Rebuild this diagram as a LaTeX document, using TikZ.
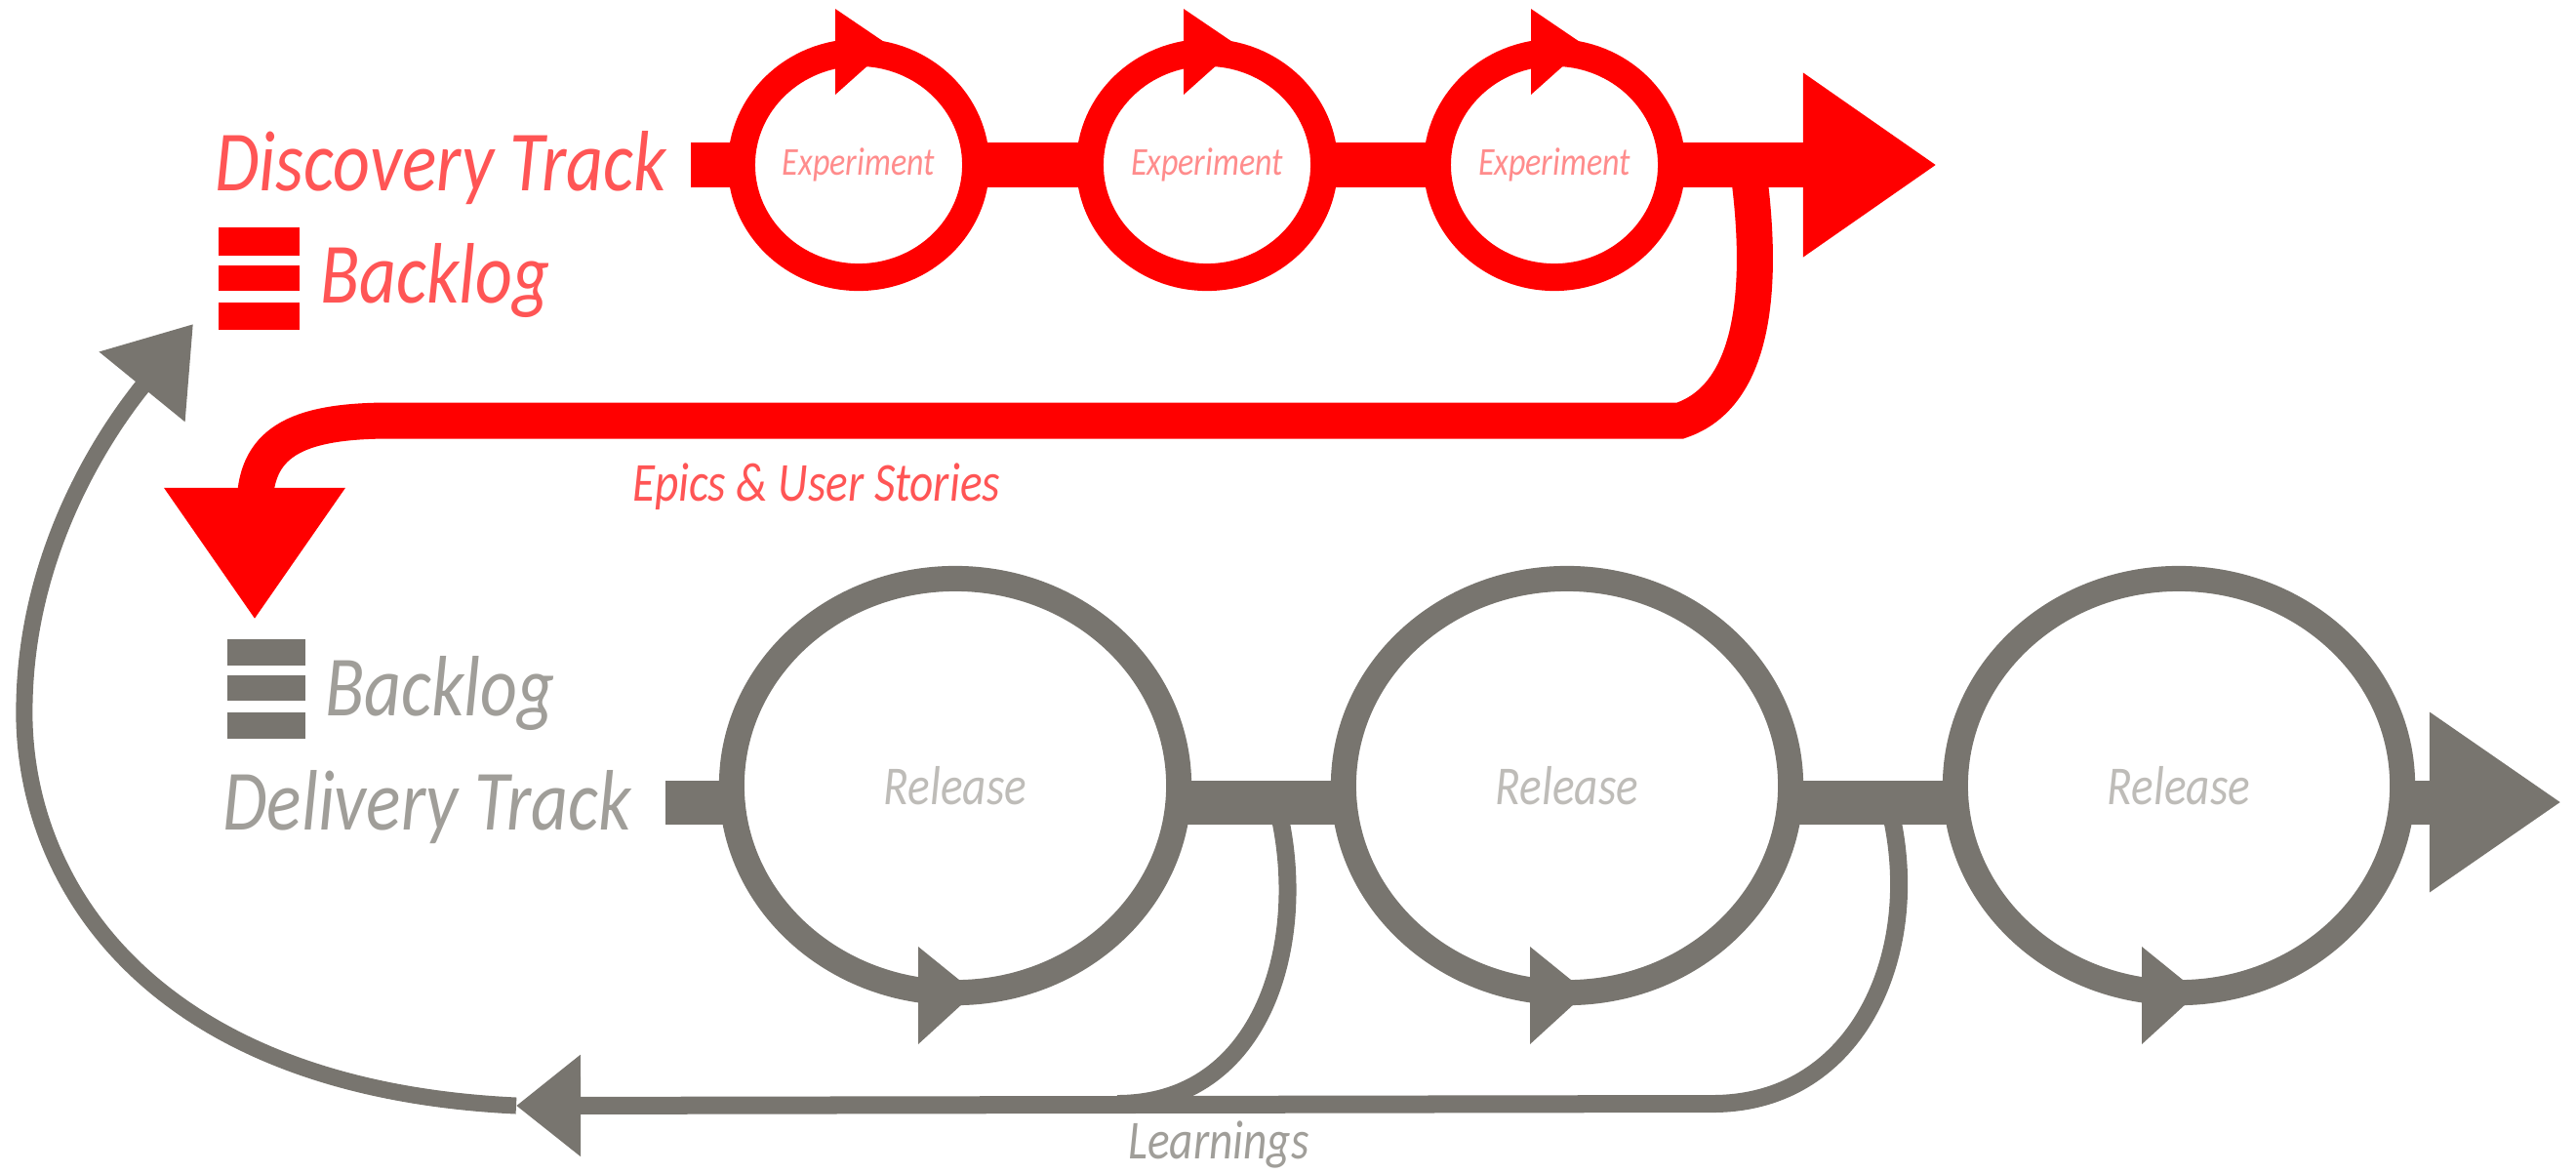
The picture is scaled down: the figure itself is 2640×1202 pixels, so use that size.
\documentclass[tikz,border=0pt]{standalone}
\usepackage{fontspec}
\setmainfont{Carlito}[FakeStretch=0.84]
\usetikzlibrary{shapes.geometric,arrows.meta}

\definecolor{trackred}{RGB}{255,0,0}
\definecolor{trackgray}{RGB}{120,117,111}
\definecolor{labelred}{RGB}{255,85,85}
\definecolor{ringred}{RGB}{255,140,140}
\definecolor{labelgray}{RGB}{160,158,153}
\definecolor{ringgray}{RGB}{190,188,184}

\newcommand{\tracksize}{\itshape\fontsize{25}{30}\selectfont}
\newcommand{\notesize}{\itshape\fontsize{16}{19}\selectfont}

\tikzset{
  expring/.style={ellipse, draw=trackred, line width=2.8mm, minimum width=2.4cm,
    minimum height=2.3cm, inner sep=0pt, text=ringred,
    font=\itshape\fontsize{11.5}{13}\selectfont},
  relring/.style={ellipse, draw=trackgray, line width=2.6mm, minimum width=4.58cm,
    minimum height=4.24cm, inner sep=0pt, text=ringgray, font=\notesize},
  redbar/.style={draw=trackred, line width=4.6mm},
  graybar/.style={draw=trackgray, line width=4.5mm},
  handoff/.style={draw=trackred, line width=3.7mm},
  learnline/.style={draw=trackgray, line width=1.8mm},
  feedback/.style={draw=trackgray, line width=1.7mm}
}

\begin{document}
\begin{tikzpicture}[x=0.01cm, y=-0.01cm]
\useasboundingbox (0,0) rectangle (2640,1202);

% labels
\node[anchor=base west, text=labelred, font=\tracksize] (disc) at (208,195) {Discovery Track};
\node[anchor=base west, text=labelred, font=\tracksize] (redlog) at (316,310) {Backlog};
\node[anchor=base west, text=labelgray, font=\tracksize] (graylog) at (321,733) {Backlog};
\node[anchor=base west, text=labelgray, font=\tracksize] (deliv) at (216,850) {Delivery Track};
\node[anchor=base west, text=labelred, font=\notesize] (epics) at (636,513) {Epics \& User Stories};
\node[anchor=base west, text=labelgray, font=\notesize] (learn) at (1144,1187) {Learnings};

% backlog stacks
\foreach \y/\h in {233/29, 272/26, 310/28}
  \fill[trackred] (224,\y) rectangle ++(83,\h);
\foreach \y/\h in {655/27, 692/26, 730/27}
  \fill[trackgray] (233,\y) rectangle ++(80,\h);

% discovery track
\coordinate (dstart) at (708,169);
\coordinate (dend) at (1985,169);
\coordinate (split) at (1791,169);
\coordinate (drop) at (261,635);
\node[expring] (exp1) at (880,169) {Experiment};
\node[expring] (exp2) at (1237,169) {Experiment};
\node[expring] (exp3) at (1593,169) {Experiment};

\draw[handoff, -{Triangle[length=1.35cm, width=1.76cm]}] (split)
  .. controls (1808,290) and (1800,405) .. (1722,431) -- (400,431)
  .. controls (300,431) and (261,455) .. (261,520) -- (drop);
\draw[redbar] (dstart) -- ([xshift=1.5mm]exp1.west)
  ([xshift=-1.5mm]exp1.east) -- ([xshift=1.5mm]exp2.west)
  ([xshift=-1.5mm]exp2.east) -- ([xshift=1.5mm]exp3.west);
\draw[redbar, -{Triangle[length=1.37cm, width=1.79cm]}] ([xshift=-1.5mm]exp3.east) -- (dend);
\foreach \n in {exp1,exp2,exp3}
  \fill[trackred] ([shift={(-24,-160)}]\n.center) -- ([shift={(-24,-72)}]\n.center)
    -- ([shift={(32,-122)}]\n.center) -- cycle;

% delivery track
\coordinate (gstart) at (682,822);
\coordinate (gend) at (2625,822);
\coordinate (fork1) at (1310,830);
\coordinate (fork2) at (1937,830);
\coordinate (join1) at (1145,1131);
\coordinate (learntip) at (529,1133);
\coordinate (back) at (198,332);

\draw[learnline] (fork1) .. controls (1342,965) and (1295,1131) .. (join1);
\draw[learnline, -{Triangle[length=0.66cm, width=1cm]}] (fork2)
  .. controls (1972,975) and (1905,1131) .. (1755,1131) -- (learntip);
\draw[feedback, -{Triangle[length=0.83cm, width=1.09cm]}] (learntip)
  .. controls (150,1115) and (20,900) .. (25,720)
  .. controls (28,560) and (110,440) .. (back);

\node[relring] (rel1) at (979,805) {Release};
\node[relring] (rel2) at (1606,805) {Release};
\node[relring] (rel3) at (2233,805) {Release};

\draw[graybar] (gstart) -- ([shift={(15,17)}]rel1.west)
  ([shift={(-15,17)}]rel1.east) -- ([shift={(15,17)}]rel2.west)
  ([shift={(-15,17)}]rel2.east) -- ([shift={(15,17)}]rel3.west);
\draw[graybar, -{Triangle[length=1.35cm, width=1.75cm]}] ([shift={(-15,17)}]rel3.east) -- (gend);
\foreach \n in {rel1,rel2,rel3}
  \fill[trackgray] ([shift={(-38,165)}]\n.center) -- ([shift={(-38,265)}]\n.center)
    -- ([shift={(20,212)}]\n.center) -- cycle;
\end{tikzpicture}
\end{document}
